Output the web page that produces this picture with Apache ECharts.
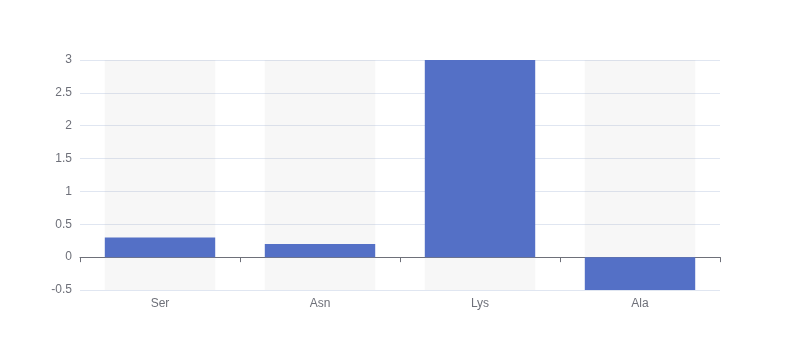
<!DOCTYPE html>
<html>
<head>
<meta charset="utf-8">
<script src="https://cdn.jsdelivr.net/npm/echarts@6/dist/echarts.min.js"></script>
<style>html,body{margin:0;padding:0;background:#fff}#main{width:800px;height:360px}</style>
</head>
<body>
<div id="main"></div>
<script>
var categories = ['Ser', 'Asn', 'Lys', 'Ala'];
var values = [0.3, 0.2, 3, -0.5];
var chart = echarts.init(document.getElementById('main'));
chart.setOption({
  animation: false,
  grid: { left: '10%', right: '10%', top: 60, bottom: 70 },
  xAxis: {
    type: 'category',
    data: categories,
    axisLine: { lineStyle: { color: '#6e7079' } },
    axisTick: { show: true, lineStyle: { color: '#6e7079' } },
    axisLabel: { color: '#6e7079', fontSize: 12 }
  },
  yAxis: {
    type: 'value',
    min: -0.5,
    max: 3,
    interval: 0.5,
    axisLabel: { color: '#6e7079', fontSize: 12 },
    splitLine: { lineStyle: { color: '#e0e6f1' } }
  },
  series: [{
    type: 'bar',
    data: values,
    barWidth: '69%',
    itemStyle: { color: '#5470c6' },
    showBackground: true,
    backgroundStyle: { color: 'rgba(180,180,180,0.1)' }
  }]
});
</script>
</body>
</html>
